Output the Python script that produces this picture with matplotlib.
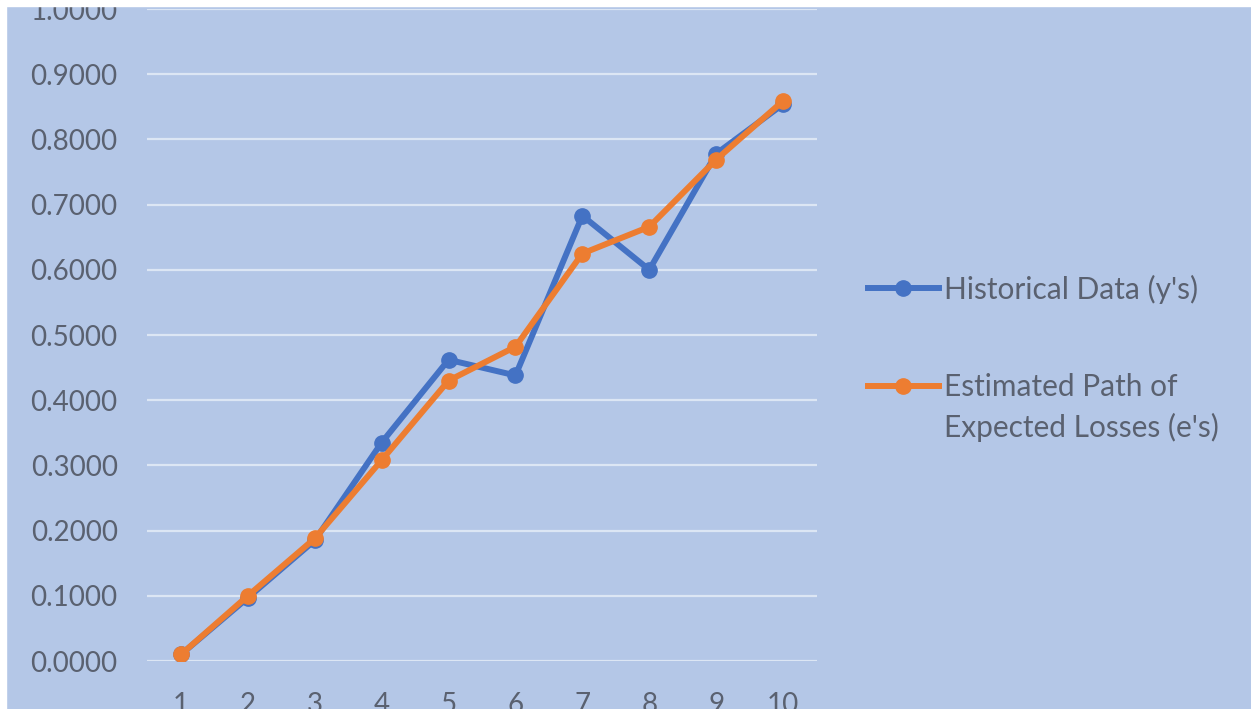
import matplotlib
matplotlib.use("Agg")
import matplotlib.pyplot as plt
from matplotlib.patches import Rectangle

periods = [1, 2, 3, 4, 5, 6, 7, 8, 9, 10]
historical = [0.010, 0.097, 0.185, 0.335, 0.462, 0.438, 0.683, 0.600, 0.778, 0.854]
estimated = [0.010, 0.100, 0.188, 0.308, 0.430, 0.482, 0.625, 0.666, 0.769, 0.859]
y_ticks = [0.0, 0.1, 0.2, 0.3, 0.4, 0.5, 0.6, 0.7, 0.8, 0.9, 1.0]

bg = "#b4c7e7"
txt = "#5a6170"

plt.rcParams["font.family"] = ["Lato", "DejaVu Sans"]

fig = plt.figure(figsize=(12.51, 7.09), dpi=100, facecolor=bg)
ax = fig.add_axes([0.1179, 0.0677, 0.5348, 0.9196], facecolor=bg)

ax.plot(periods, historical, color="#4472c4", lw=4.3, marker="o", ms=11,
        solid_joinstyle="round", label="Historical Data (y's)")
ax.plot(periods, estimated, color="#ed7d31", lw=4.3, marker="o", ms=11,
        solid_joinstyle="round", label="Estimated Path of")

ax.set_xlim(0.5, 10.5)
ax.set_ylim(0, 1.0)
ax.set_yticks(y_ticks)
ax.set_yticklabels([f"{v:.4f}" for v in y_ticks])
ax.set_xticks(periods)
ax.set_xticklabels([str(p) for p in periods])
ax.grid(axis="y", color="#dce6f4", lw=1.6)
ax.set_axisbelow(True)
for s in ax.spines.values():
    s.set_visible(False)
ax.tick_params(axis="both", length=0, labelsize=20, colors=txt)
ax.tick_params(axis="y", pad=21.5)
ax.tick_params(axis="x", pad=22)

leg = fig.legend(loc="upper left", bbox_to_anchor=(0.684, 0.6298), frameon=False,
                 fontsize=21.5, labelcolor=txt, handlelength=2.4, handletextpad=0.17,
                 labelspacing=2.34, borderaxespad=0)
# second line of the orange label sits under the first, handle stays on line one
ann = ax.annotate("Expected Losses (e's)", xy=(0, 0.5), xycoords=leg.get_texts()[1],
                  xytext=(0, -28.8), textcoords="offset points", va="center",
                  ha="left", fontsize=21.5, color=txt, annotation_clip=False)
ann.remove()
fig.add_artist(ann)
ann.set_zorder(6)

# white edges of the screenshot
fig.add_artist(Rectangle((0, 1 - 6 / 709), 1, 6 / 709, transform=fig.transFigure,
                         color="white", zorder=10))
fig.add_artist(Rectangle((0, 0), 6 / 1251, 1, transform=fig.transFigure,
                         color="white", zorder=10))

fig.savefig("out.png", dpi=100, facecolor=bg)
